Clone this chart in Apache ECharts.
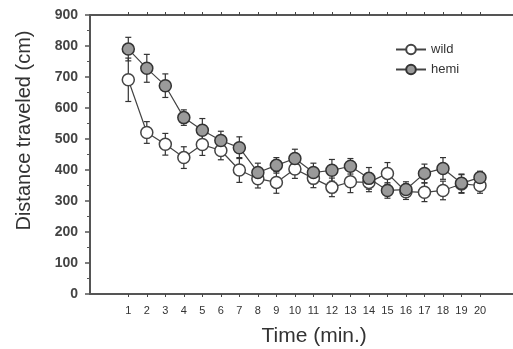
<!DOCTYPE html>
<html><head><meta charset="utf-8">
<script src="https://cdn.jsdelivr.net/npm/echarts@6/dist/echarts.min.js"></script>
<style>html,body{margin:0;padding:0;background:#fff}#c{width:513px;height:349px}</style>
</head><body><div id="c"></div>
<script>
const times = [1,2,3,4,5,6,7,8,9,10,11,12,13,14,15,16,17,18,19,20];
const wildMean = [691,521,483,440,482,463,400,372,360,403,373,344,362,360,389,330,328,334,355,350];
const wildErr  = [70,35,35,35,35,30,40,30,35,30,30,30,35,30,35,25,30,30,30,25];
const hemiMean = [790,728,672,569,528,495,472,392,415,437,392,399,412,373,334,337,389,405,357,376];
const hemiErr  = [38,45,38,25,38,30,35,30,25,30,30,35,25,35,25,25,30,35,30,20];
const yTicks = [0,100,200,300,400,500,600,700,800,900];

const chart = echarts.init(document.getElementById('c'));
const axisCol = '#555';
function errSeries(name, means, errs){
  return {
    type: 'custom', name: name + ' err', xAxisIndex: 2, yAxisIndex: 1, z: 1,
    data: times.map((t,i)=>[t, means[i]-errs[i], means[i]+errs[i]]),
    renderItem: function(params, api){
      const lo = api.coord([api.value(0), api.value(1)]);
      const hi = api.coord([api.value(0), api.value(2)]);
      const w = 3;
      const st = {stroke:'#333', lineWidth:1.2};
      return {type:'group', children:[
        {type:'line', shape:{x1:lo[0],y1:lo[1],x2:hi[0],y2:hi[1]}, style:st},
        {type:'line', shape:{x1:lo[0]-w,y1:lo[1],x2:lo[0]+w,y2:lo[1]}, style:st},
        {type:'line', shape:{x1:hi[0]-w,y1:hi[1],x2:hi[0]+w,y2:hi[1]}, style:st}
      ]};
    }
  };
}
chart.setOption({
  animation: false,
  grid: [
    {left: 90, right: 0, top: 15, bottom: 55, containLabel:false, outerBoundsMode:'none'},
    {left: 128.3, right: 33, top: 15, bottom: 55, containLabel:false, outerBoundsMode:'none'}
  ],
  legend: {
    data: ['wild','hemi'], orient: 'vertical', left: 390, top: 38, itemGap: 7,
    itemWidth: 30, itemHeight: 12,
    textStyle: {fontFamily: 'Liberation Sans, Arial', fontSize: 13, color: '#333'}
  },
  xAxis: [
    {gridIndex:0, type:'value', min:0, max:1, position:'bottom',
     axisLine:{show:true, lineStyle:{color:axisCol, width:2}}, axisTick:{show:false}, axisLabel:{show:false}, splitLine:{show:false}},
    {gridIndex:0, type:'value', min:0, max:1, position:'top',
     axisLine:{show:true, lineStyle:{color:axisCol, width:2}}, axisTick:{show:false}, axisLabel:{show:false}, splitLine:{show:false}},
    {gridIndex:1, type:'value', min:1, max:20, interval:1, position:'bottom',
     axisLine:{show:false}, axisTick:{show:true, length:3, lineStyle:{color:'#444'}},
     axisLabel:{fontFamily:'Liberation Sans, Arial', fontSize:11, color:'#333', margin:11},
     splitLine:{show:false},
     name:'Time (min.)', nameLocation:'middle', nameGap:32,
     nameTextStyle:{fontFamily:'Liberation Sans, Arial', fontSize:21, color:'#333', padding:[0,0,0,20]}},
    {gridIndex:1, type:'value', min:1, max:20, interval:1, position:'top',
     axisLine:{show:false}, axisTick:{show:true, length:3, lineStyle:{color:'#444'}},
     axisLabel:{show:false}, splitLine:{show:false}}
  ],
  yAxis: [
    {gridIndex:0, type:'value', min:0, max:900, interval:100,
     axisLine:{show:true, lineStyle:{color:axisCol, width:2}},
     axisTick:{show:true, length:5, lineStyle:{color:axisCol, width:1.5}},
     minorTick:{show:true, splitNumber:2, length:3, lineStyle:{color:axisCol}},
     axisLabel:{fontFamily:'Liberation Sans, Arial', fontSize:14, fontWeight:'bold', color:'#444', margin:12,
       formatter: v => yTicks.includes(v) ? String(v) : ''},
     splitLine:{show:false},
     name:'Distance traveled (cm)', nameLocation:'middle', nameGap:56,
     nameTextStyle:{fontFamily:'Liberation Sans, Arial', fontSize:20, color:'#333', padding:[0,0,0,48]}},
    {gridIndex:1, type:'value', min:0, max:900, show:false}
  ],
  series: [
    errSeries('wild', wildMean, wildErr),
    errSeries('hemi', hemiMean, hemiErr),
    {name:'wild', type:'line', xAxisIndex:2, yAxisIndex:1, z:3,
     data: times.map((t,i)=>[t, wildMean[i]]),
     symbol:'circle', symbolSize:12,
     lineStyle:{color:'#444', width:1.2},
     itemStyle:{color:'#fff', borderColor:'#444', borderWidth:1.5}},
    {name:'hemi', type:'line', xAxisIndex:2, yAxisIndex:1, z:4,
     data: times.map((t,i)=>[t, hemiMean[i]]),
     symbol:'circle', symbolSize:12,
     lineStyle:{color:'#444', width:1.2},
     itemStyle:{color:'#9a9a9a', borderColor:'#333', borderWidth:1.5}}
  ]
});
</script></body></html>
